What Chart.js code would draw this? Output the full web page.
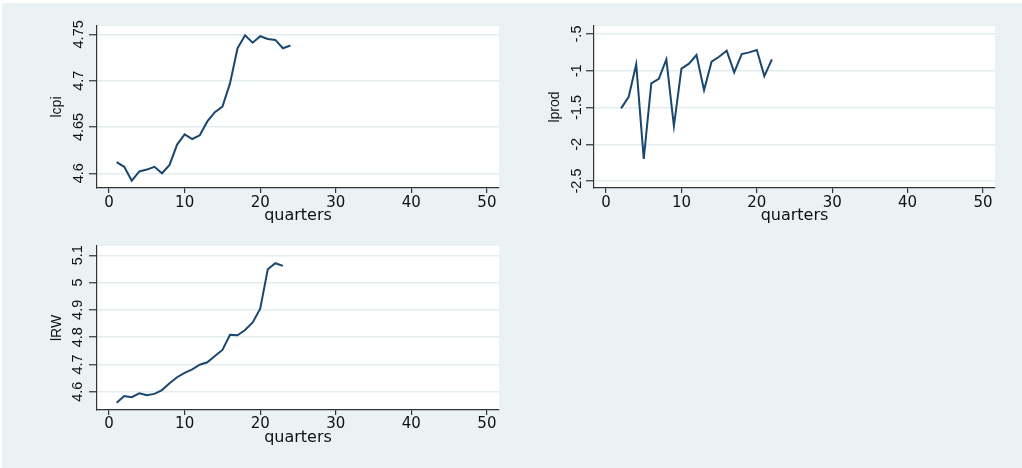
<!DOCTYPE html>
<html>
<head>
<meta charset="utf-8">
<script src="https://cdn.jsdelivr.net/npm/chart.js@4"></script>
<style>
html, body { margin:0; padding:0; background:#fff; }
#bg { position:absolute; left:2px; top:3px; width:1020px; height:465px; background:#EAF2F3; }
canvas { position:absolute; }
</style>
</head>
<body>
<div id="bg"></div>
<canvas id="c1" width="511" height="234" style="left:0;top:0"></canvas>
<canvas id="c2" width="511" height="234" style="left:511px;top:0"></canvas>
<canvas id="c3" width="511" height="234" style="left:0;top:234px"></canvas>
<script>
// quarters and series
const lcpiQ = [1,2,3,4,5,6,7,8,9,10,11,12,13,14,15,16,17,18,19,20,21,22,23,24];
const lcpi = [4.612,4.607,4.592,4.602,4.604,4.607,4.600,4.609,4.631,4.642,4.637,4.641,
  4.656,4.666,4.672,4.697,4.735,4.749,4.741,4.748,4.745,4.744,4.735,4.738];

const lprodQ = [2,3,4,5,6,7,8,9,10,11,12,13,14,15,16,17,18,19,20,21,22];
const lprod = [-1.512,-1.354,-0.913,-2.199,-1.172,-1.109,-0.845,-1.753,-0.972,-0.904,-0.786,
  -1.263,-0.877,-0.809,-0.727,-1.022,-0.772,-0.750,-0.718,-1.072,-0.845];

const lrwQ = [1,2,3,4,5,6,7,8,9,10,11,12,13,14,15,16,17,18,19,20,21,22,23];
const lrw = [4.560,4.584,4.580,4.594,4.587,4.592,4.606,4.631,4.653,4.669,4.682,4.699,
  4.708,4.731,4.753,4.809,4.807,4.826,4.854,4.904,5.049,5.071,5.061];

const xTicks = [0,10,20,30,40,50];
const lcpiTicks = [4.6,4.65,4.7,4.75];
const lcpiLabels = ['4.6','4.65','4.7','4.75'];
const lprodTicks = [-2.5,-2,-1.5,-1,-0.5];
const lprodLabels = ['-2.5','-2','-1.5','-1','-.5'];
const lrwTicks = [4.6,4.7,4.8,4.9,5,5.1];
const lrwLabels = ['4.6','4.7','4.8','4.9','5','5.1'];

const plotBg = {
  id: 'plotBg',
  beforeDraw(chart) {
    const a = chart.chartArea, ctx = chart.ctx;
    ctx.save();
    ctx.fillStyle = '#fff';
    ctx.fillRect(a.left, a.top, a.right - a.left, a.bottom - a.top);
    ctx.restore();
  }
};

function panel(id, p) {
  new Chart(document.getElementById(id), {
    type: 'line',
    data: {
      datasets: [{
        data: p.xs.map((x, i) => ({x: x, y: p.ys[i]})),
        borderColor: '#1A476F',
        borderWidth: 2,
        pointRadius: 0,
        tension: 0,
        fill: false
      }]
    },
    options: {
      responsive: false,
      animation: false,
      layout: { padding: p.pad },
      plugins: { legend: { display: false }, tooltip: { enabled: false } },
      scales: {
        x: {
          type: 'linear', min: -1.6, max: 51.6,
          afterBuildTicks: s => { s.ticks = xTicks.map(v => ({value: v})); },
          afterFit: s => { s.height = p.xH; },
          grid: { drawOnChartArea: false, tickLength: 5, color: '#333', lineWidth: 1.2 },
          border: { color: '#333', width: 1.2 },
          ticks: { autoSkip: false, maxRotation: 0, padding: p.xTickPad, color: '#111',
            font: { family: '"DejaVu Sans"', size: 15 } },
          title: { display: true, text: 'quarters', color: '#111',
            font: { family: '"DejaVu Sans"', size: 16 }, padding: { top: 0, bottom: p.xTitlePad } }
        },
        y: {
          min: p.yMin, max: p.yMax,
          afterBuildTicks: s => { s.ticks = p.yTicks.map(v => ({value: v})); },
          afterFit: s => { s.width = p.yW; },
          grid: { color: '#E3ECEE', lineWidth: 1.5, tickColor: '#333', tickWidth: 1.2, tickLength: 8 },
          border: { color: '#333', width: 1.2 },
          ticks: { autoSkip: false, minRotation: 90, maxRotation: 90, crossAlign: 'center',
            padding: p.yTickPad, color: '#111',
            font: { family: '"Liberation Sans", Arial, sans-serif', size: 14.5 },
            callback: (v, i) => p.yLabels[i] },
          title: { display: true, text: p.yTitle, color: '#111',
            font: { family: '"Liberation Sans", Arial, sans-serif', size: 14 },
            padding: { top: p.yTitlePad, bottom: 0 } }
        }
      }
    },
    plugins: [plotBg]
  });
}

panel('c1', { xs: lcpiQ, ys: lcpi, yTitle: 'lcpi', yMin: 4.5841, yMax: 4.759,
  yTicks: lcpiTicks, yLabels: lcpiLabels, yW: 97, xH: 46,
  pad: { left: 0, top: 26, right: 12, bottom: 0 },
  yTickPad: -4, yTitlePad: 49, xTickPad: 1, xTitlePad: 9 });

panel('c2', { xs: lprodQ, ys: lprod, yTitle: 'lprod', yMin: -2.595, yMax: -0.391,
  yTicks: lprodTicks, yLabels: lprodLabels, yW: 83, xH: 46,
  pad: { left: 0, top: 26, right: 27, bottom: 0 },
  yTickPad: -3, yTitlePad: 36, xTickPad: 1, xTitlePad: 9 });

panel('c3', { xs: lrwQ, ys: lrw, yTitle: 'lRW', yMin: 4.533, yMax: 5.134,
  yTicks: lrwTicks, yLabels: lrwLabels, yW: 97, xH: 58,
  pad: { left: 0, top: 12, right: 12, bottom: 0 },
  yTickPad: 1, yTitlePad: 49, xTickPad: 0, xTitlePad: 21 });
</script>
</body>
</html>
